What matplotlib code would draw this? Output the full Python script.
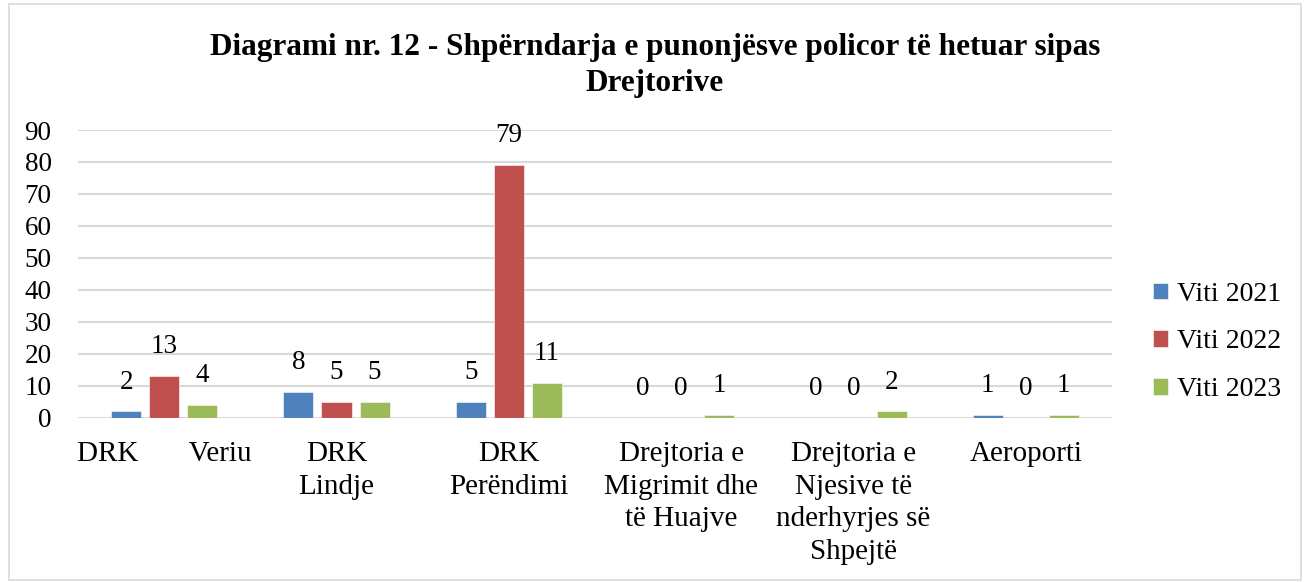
import matplotlib
matplotlib.use("Agg")
import matplotlib.pyplot as plt
import numpy as np
from matplotlib.patches import Rectangle

categories = [
    "DRK       Veriu",
    "DRK\nLindje",
    "DRK\nPerëndimi",
    "Drejtoria e\nMigrimit dhe\ntë Huajve",
    "Drejtoria e\nNjesive të\nnderhyrjes së\nShpejtë",
    "Aeroporti",
]
series_names = ["Viti 2021", "Viti 2022", "Viti 2023"]
viti_2021 = [2, 8, 5, 0, 0, 1]
viti_2022 = [13, 5, 79, 0, 0, 0]
viti_2023 = [4, 5, 11, 1, 2, 1]
y_ticks = [0, 10, 20, 30, 40, 50, 60, 70, 80, 90]
title = "Diagrami nr. 12 - Shpërndarja e punonjësve policor të hetuar sipas\nDrejtorive"

colors = ["#4F81BD", "#C0504D", "#9BBB59"]

plt.rcParams["font.family"] = ["Liberation Serif", "DejaVu Serif"]

W, H = 1304, 582
fig = plt.figure(figsize=(W / 100, H / 100), dpi=100)
ax = fig.add_axes([78 / W, (H - 417.7) / H, (1112 - 78) / W, (417.7 - 130) / H])

x = np.arange(len(categories))
bar_w = 30 / 172.3
step = 38 / 172.3
for i, (name, vals) in enumerate(zip(series_names, [viti_2021, viti_2022, viti_2023])):
    pos = x + (i - 1) * step
    ax.bar(pos, vals, width=bar_w, color=colors[i], label=name,
           edgecolor="white", linewidth=0.4, zorder=3)
    for px, v in zip(pos, vals):
        ax.annotate(str(v), (px, v), xytext=(0, 21), textcoords="offset points",
                    ha="center", va="center", fontsize=19.5, color="black")

ax.set_xlim(-0.5, len(categories) - 0.5)
ax.set_ylim(0, 90)
ax.set_yticks(y_ticks)
ax.set_xticks(x)
ax.set_xticklabels(categories, fontsize=21, linespacing=1.32)
ax.tick_params(axis="y", labelsize=19.5, length=0, pad=19)
ax.tick_params(axis="x", length=0, pad=17)
ax.yaxis.grid(True, color="#d9d9d9", linewidth=1.5, zorder=0)
ax.set_axisbelow(True)
for s in ax.spines.values():
    s.set_visible(False)

fig.text(655 / W, 1 - 33 / H, title, ha="center", va="top", fontsize=22.5,
         fontweight="bold", linespacing=1.3)

handles, labels = ax.get_legend_handles_labels()
fig.legend(handles, labels, loc="center left", bbox_to_anchor=(1128 / W, 1 - 342 / H),
           frameon=False, fontsize=20, handlelength=0.55, handleheight=0.55,
           handletextpad=0.3, labelspacing=0.82)

fig.patches.append(Rectangle((9 / W, 2 / H), (1301 - 9) / W, (578 - 2) / H,
                             transform=fig.transFigure, fill=False,
                             edgecolor="#d9d9d9", linewidth=1.2))

fig.savefig("out.png", dpi=100)
